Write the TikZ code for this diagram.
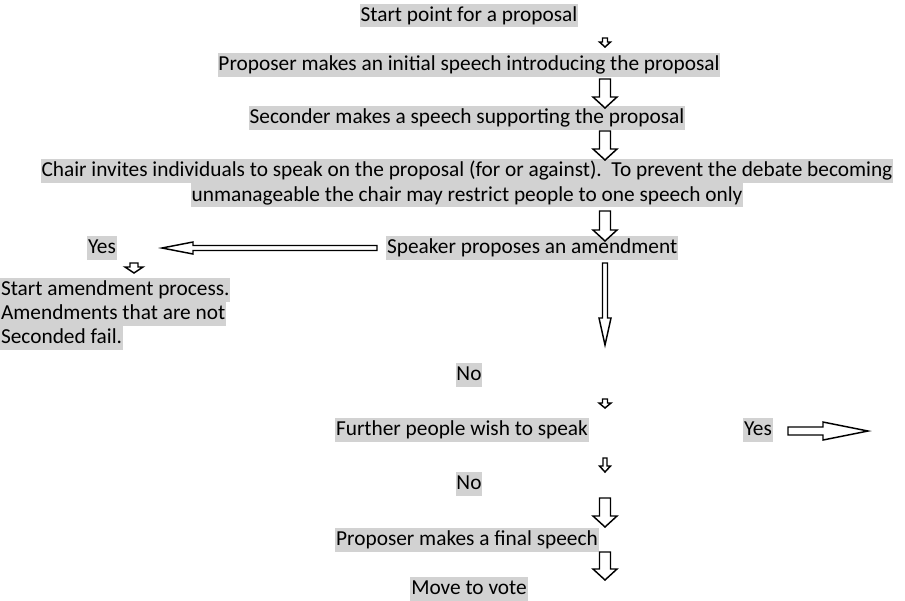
\documentclass[tikz,border=0pt]{standalone}
\usepackage{fontspec}
\setmainfont{Carlito}
\usetikzlibrary{positioning}

\tikzset{
  hl/.style={fill=gray!35, inner xsep=0.6pt, inner ysep=0pt, text height=13.3pt, text depth=4.5pt,
    font=\fontsize{16pt}{19pt}\selectfont},
  blockarrow/.style={draw=black, fill=white, line width=1.1pt, line join=miter}
}

% x, top, head base, tip, shaft half width, head half width
\newcommand{\downblock}[6]{%
  \draw[blockarrow] (#1-#5,#2) -- (#1+#5,#2) -- (#1+#5,#3) -- (#1+#6,#3) -- (#1,#4) -- (#1-#6,#3) -- (#1-#5,#3) -- cycle;}
% y, tail, head base, tip, shaft half height, head half height
\newcommand{\sideblock}[6]{%
  \draw[blockarrow] (#2,#1-#5) -- (#3,#1-#5) -- (#3,#1-#6) -- (#4,#1) -- (#3,#1+#6) -- (#3,#1+#5) -- (#2,#1+#5) -- cycle;}

\begin{document}
\begin{tikzpicture}[x=0.75pt, y=-0.75pt]
    \useasboundingbox (0,0) rectangle (905,600);
    \node[hl] (start) at (469,15.5) {Start point for a proposal};
    \node[hl] (initial) at (469,65) {Proposer makes an initial speech introducing the proposal};
    \node[hl] (seconder) at (467,118) {Seconder makes a speech supporting the proposal};
    \node[hl] (chairA) at (467,171) {Chair invites individuals to speak on the proposal (for or against).\ \ To prevent the debate becoming};
    \node[hl, below=0pt of chairA] (chairB) {unmanageable the chair may restrict people to one speech only};
    \node[hl] (yesA) at (102,248) {Yes};
    \node[hl, anchor=west] (amend) at (386,248) {Speaker proposes an amendment};
    \node[hl, anchor=west] (processA) at (0,290) {Start amendment process.};
    \node[hl, anchor=west] (processB) at (0,314) {Amendments that are not};
    \node[hl, anchor=west] (processC) at (0,338) {Seconded fail.};
    \node[hl] (noA) at (469,375) {No};
    \node[hl] (further) at (462,430) {Further people wish to speak};
    \node[hl] (yesB) at (758,430) {Yes};
    \node[hl] (noB) at (469,484) {No};
    \node[hl] (final) at (467,540) {Proposer makes a final speech};
    \node[hl] (vote) at (469,589) {Move to vote};

    \downblock{605}{38}{42}{47}{2.5}{5.5}
    \downblock{605}{79}{97}{108}{5.5}{12}
    \downblock{605}{131}{149}{160}{5.5}{12}
    \downblock{605}{211}{230}{241}{5.5}{12}
    \sideblock{248}{377}{193}{162}{2.5}{6}
    \downblock{134}{263}{267}{273}{4}{9}
    \downblock{605}{263}{318}{345}{2.5}{6}
    \downblock{605}{399}{403}{408}{2.5}{6}
    \sideblock{431}{788}{823}{868}{4}{9}
    \downblock{605}{458}{466}{472}{2}{5.5}
    \downblock{605}{498}{516}{527}{5.5}{12}
    \downblock{605}{552}{569}{580}{5.5}{12}
\end{tikzpicture}
\end{document}
